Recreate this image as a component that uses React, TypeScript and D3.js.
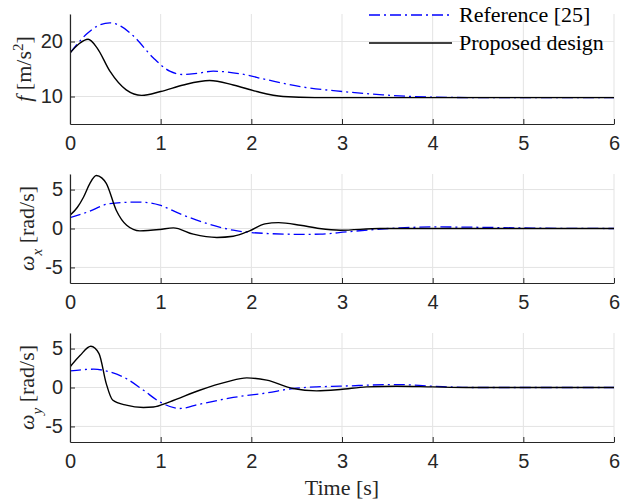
import * as React from "react";
import * as d3 from "d3";

// time ticks shared by all three panels
const timeTicks = [0, 1, 2, 3, 4, 5, 6];

// f [m/s^2]
const fRefT = [0, 0.18, 0.3, 0.44, 0.56, 0.7, 0.92, 1.1, 1.25, 1.4, 1.58, 1.87, 2.17, 2.54, 3.01, 3.45, 3.97, 4.5, 5, 6];
const fRef = [17.9, 21.3, 22.8, 23.4, 22.8, 21.0, 17.0, 14.6, 14.0, 14.2, 14.6, 14.15, 13.05, 11.8, 10.9, 10.3, 9.9, 9.8, 9.8, 9.8];
const fPropT = [0, 0.1, 0.2, 0.3, 0.44, 0.62, 0.79, 1.0, 1.25, 1.54, 1.8, 2.06, 2.35, 2.7, 3.2, 4, 5, 6];
const fProp = [17.9, 19.6, 20.4, 18.8, 14.6, 11.2, 10.2, 10.9, 12.1, 12.9, 12.1, 10.9, 10.0, 9.8, 9.8, 9.8, 9.8, 9.8];

// omega_x [rad/s]
const wxRefT = [0, 0.19, 0.44, 0.77, 0.99, 1.21, 1.51, 1.8, 2.17, 2.54, 2.76, 3.05, 3.64, 4.0, 4.55, 5.1, 6];
const wxRef = [1.4, 2.1, 3.2, 3.4, 3.0, 1.9, 0.64, -0.22, -0.64, -0.75, -0.73, -0.43, 0.08, 0.2, 0.15, 0.05, 0];
const wxPropT = [0, 0.08, 0.15, 0.22, 0.29, 0.35, 0.4, 0.51, 0.625, 0.77, 0.99, 1.14, 1.36, 1.62, 1.8, 1.98, 2.15, 2.3, 2.54, 2.75, 2.98, 3.42, 4, 5, 6];
const wxProp = [1.7, 2.7, 4.05, 5.8, 6.8, 6.5, 5.8, 2.35, 0.42, -0.3, -0.13, 0.08, -0.73, -1.15, -1.0, -0.3, 0.6, 0.75, 0.42, 0.0, -0.22, 0.0, 0.0, 0.0, 0.0];

// omega_y [rad/s]
const wyRefT = [0, 0.26, 0.44, 0.62, 0.81, 0.99, 1.21, 1.43, 1.8, 2.17, 2.46, 2.72, 2.98, 3.6, 4.0, 4.45, 5, 6];
const wyRef = [2.13, 2.35, 2.0, 1.15, -0.35, -1.84, -2.7, -2.14, -1.28, -0.69, -0.13, 0.08, 0.17, 0.38, 0.17, 0, 0, 0];
const wyPropT = [0, 0.11, 0.23, 0.32, 0.4, 0.47, 0.62, 0.81, 0.92, 1.1, 1.43, 1.73, 1.95, 2.17, 2.46, 2.72, 2.98, 3.27, 3.6, 4.0, 4.37, 5, 6];
const wyProp = [2.64, 4.1, 5.3, 4.36, 0.5, -1.6, -2.27, -2.56, -2.5, -1.84, -0.35, 0.72, 1.23, 0.94, -0.13, -0.43, -0.26, 0.08, 0.17, 0.08, 0, 0, 0];

const legendLabels = ["Reference [25]", "Proposed design"];

export default function App() {
  const ref = React.useRef<SVGSVGElement>(null);

  React.useEffect(() => {
    const svg = d3.select(ref.current);
    svg.selectAll("*").remove();

    const left = 70, right = 614;
    const axisColor = "#262626";
    const gridColor = "#e3e3e3";
    const sans = "'Liberation Sans', Arial, sans-serif";
    const serif = "'Liberation Serif', 'DejaVu Serif', serif";

    const x = d3.scaleLinear().domain([0, 6]).range([left, right]);

    const panels = [
      {top: 14, bottom: 124, domain: [5, 25], ticks: [10, 20], ref: [fRefT, fRef], prop: [fPropT, fProp], label: "f"},
      {top: 174, bottom: 283, domain: [-7, 7], ticks: [-5, 0, 5], ref: [wxRefT, wxRef], prop: [wxPropT, wxProp], label: "x"},
      {top: 333, bottom: 442, domain: [-7, 7], ticks: [-5, 0, 5], ref: [wyRefT, wyRef], prop: [wyPropT, wyProp], label: "y"},
    ];

    panels.forEach(p => {
      const y = d3.scaleLinear().domain(p.domain).range([p.bottom, p.top]);
      const g = svg.append("g");

      // grid
      g.selectAll(".gx").data(timeTicks).enter().append("line")
        .attr("x1", d => x(d)).attr("x2", d => x(d))
        .attr("y1", p.top).attr("y2", p.bottom)
        .attr("stroke", gridColor).attr("stroke-width", 1);
      g.selectAll(".gy").data(p.ticks).enter().append("line")
        .attr("x1", left).attr("x2", right)
        .attr("y1", d => y(d)).attr("y2", d => y(d))
        .attr("stroke", gridColor).attr("stroke-width", 1);

      // lines
      const line = d3.line<number>()
        .x(d => x(d))
        .curve(d3.curveMonotoneX);

      const [rt, rv] = p.ref;
      const [pt, pv] = p.prop;

      const clipId = "clip" + p.label;
      svg.append("clipPath").attr("id", clipId).append("rect")
        .attr("x", left).attr("y", p.top).attr("width", right - left).attr("height", p.bottom - p.top);

      g.append("path")
        .attr("d", line.y((d, i) => y(rv[i]))(rt))
        .attr("fill", "none").attr("stroke", "#0000ff").attr("stroke-width", 1.3)
        .attr("stroke-dasharray", "11,4,2,4")
        .attr("clip-path", `url(#${clipId})`);
      g.append("path")
        .attr("d", line.y((d, i) => y(pv[i]))(pt))
        .attr("fill", "none").attr("stroke", "#000").attr("stroke-width", 1.4)
        .attr("clip-path", `url(#${clipId})`);

      // axes
      const xAxis = g.append("g").attr("transform", `translate(0,${p.bottom})`)
        .call(d3.axisBottom(x).tickValues(timeTicks).tickFormat(d => String(d))
          .tickSizeInner(-5).tickSizeOuter(0).tickPadding(12));
      const yAxis = g.append("g").attr("transform", `translate(${left},0)`)
        .call(d3.axisLeft(y).tickValues(p.ticks).tickFormat(d => String(d))
          .tickSizeInner(-5).tickSizeOuter(0).tickPadding(7));
      [xAxis, yAxis].forEach(a => {
        a.select(".domain").attr("stroke", axisColor).attr("stroke-width", 1.2);
        a.selectAll(".tick line").attr("stroke", axisColor);
        a.selectAll(".tick text").attr("fill", axisColor)
          .style("font-family", sans).style("font-size", "20px");
      });
      xAxis.selectAll(".tick text").attr("dy", "0.71em");

      // y label
      const cy = (p.top + p.bottom) / 2;
      const lab = g.append("text")
        .attr("transform", `translate(${p.label === "f" ? 31 : 34},${cy}) rotate(-90)`)
        .attr("text-anchor", "middle")
        .attr("fill", axisColor)
        .style("font-family", serif).style("font-size", "22px");
      if (p.label === "f") {
        lab.append("tspan").style("font-style", "italic").text("f");
        lab.append("tspan").text(" [m/s");
        lab.append("tspan").attr("baseline-shift", "super").style("font-size", "15px").text("2");
        lab.append("tspan").text("]");
      } else {
        lab.append("tspan").style("font-style", "italic").text("ω");
        lab.append("tspan").attr("baseline-shift", "sub").style("font-size", "15px").style("font-style", "italic").text(p.label);
        lab.append("tspan").text(" [rad/s]");
      }
    });

    // x label
    svg.append("text")
      .attr("x", (left + right) / 2).attr("y", 495)
      .attr("text-anchor", "middle").attr("fill", axisColor)
      .style("font-family", serif).style("font-size", "22px")
      .text("Time [s]");

    // legend
    const legend = svg.append("g");
    const rows = [
      {label: legendLabels[0], color: "#0000ff", dash: "11,4,2,4", y: 15},
      {label: legendLabels[1], color: "#000", dash: null, y: 43},
    ];
    rows.forEach(r => {
      legend.append("line")
        .attr("x1", 369).attr("x2", 452).attr("y1", r.y).attr("y2", r.y)
        .attr("stroke", r.color).attr("stroke-width", 1.4)
        .attr("stroke-dasharray", r.dash);
      legend.append("text")
        .attr("x", 459).attr("y", r.y + 7)
        .attr("fill", "#000")
        .style("font-family", serif).style("font-size", "22px")
        .text(r.label);
    });
  }, []);

  return (
    <svg ref={ref} width={634} height={501}
      style={{position: "absolute", left: 0, top: 0, background: "#fff"}}/>
  );
}
